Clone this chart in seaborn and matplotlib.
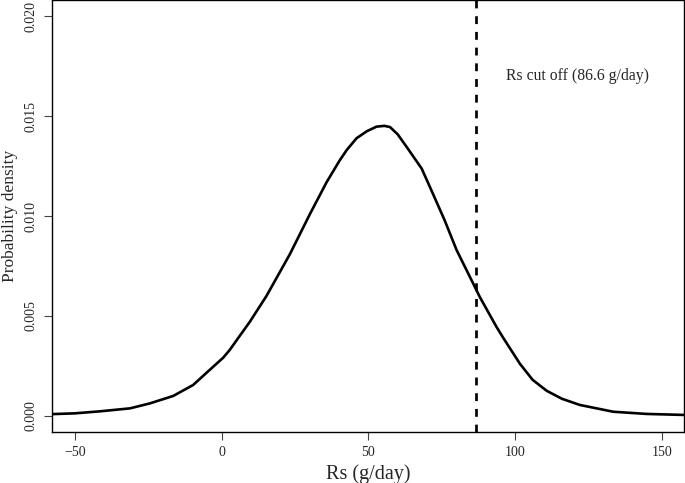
import matplotlib
matplotlib.use("Agg")
import matplotlib.pyplot as plt
import seaborn as sns
import pandas as pd

# Density curve values
rs_values = [-57.9, -50, -41.5, -31.2, -24.4, -16.5, -9.7, -2.9, 0.5, 2.8, 5.7, 9.6,
             15.3, 23.3, 30.1, 35.8, 40.3, 42.6, 46.0, 49.5, 52.8, 55.5, 57.4, 60.0,
             63.1, 68.2, 71.0, 76.0, 80.1, 86.3, 88.0, 93.7, 96.0, 101.7, 106.0,
             110.8, 116.0, 122.1, 133.5, 144.9, 157.6]
density = [0.00008, 0.00012, 0.00022, 0.00037, 0.00062, 0.00099, 0.00154, 0.00245,
           0.0029, 0.0033, 0.0039, 0.0047, 0.0060, 0.0081, 0.0101, 0.0117, 0.0128,
           0.0133, 0.0139, 0.01425, 0.01448, 0.01452, 0.01446, 0.0141, 0.01346,
           0.01238, 0.01146, 0.0098, 0.0083, 0.00646, 0.00595, 0.00445, 0.0039,
           0.0026, 0.0018, 0.00125, 0.00085, 0.00054, 0.0002, 0.00009, 0.00004]
cutoff = 86.6
cutoff_label = "Rs cut off (86.6 g/day)"
x_ticks = [-50, 0, 50, 100, 150]
y_ticks = [0.000, 0.005, 0.010, 0.015, 0.020]
y_tick_labels = ["0.000", "0.005", "0.010", "0.015", "0.020"]

sns.set_style("ticks")
plt.rcParams["font.family"] = ["Liberation Serif", "DejaVu Serif"]

df = pd.DataFrame({"Rs": rs_values, "density": density})

fig = plt.figure(figsize=(6.85, 4.83), dpi=100)
ax = fig.add_axes([0.0755, 0.1062, 0.923, 0.8928])

sns.lineplot(data=df, x="Rs", y="density", ax=ax, color="black", linewidth=1.9,
             sort=False, estimator=None)
ax.axvline(cutoff, color="black", linestyle=(0, (2.9, 2.9)), linewidth=1.95)
ax.text(121.3, 0.0170, cutoff_label, ha="center", va="center", fontsize=11.3)

ax.set_xlim(-57.9, 157.6)
ax.set_ylim(-0.0008, 0.0208)
ax.set_xticks(x_ticks)
ax.set_xticklabels(["\u221250", "0", "50", "100", "150"])
ax.set_yticks(y_ticks)
ax.set_yticklabels(y_tick_labels, rotation=90, va="center")
ax.tick_params(axis="both", labelsize=10, length=6, width=0.8, color="#444444", pad=4)
ax.set_xlabel("Rs (g/day)", fontsize=14.5, labelpad=4)
ax.set_ylabel("Probability density", fontsize=12.5, labelpad=5)

for s in ax.spines.values():
    s.set_visible(True)
    s.set_color("black")
    s.set_linewidth(1.0)

fig.savefig("out.png", dpi=100)
